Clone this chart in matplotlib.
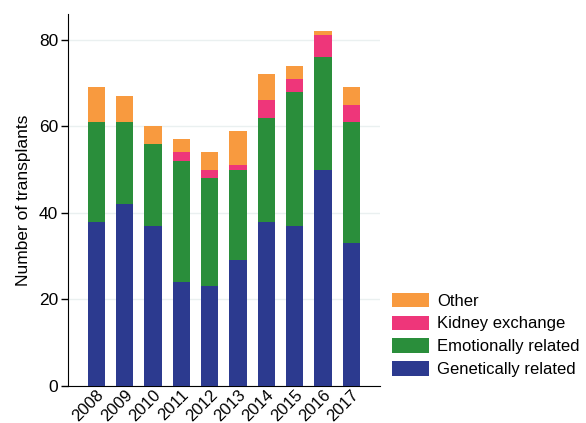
import numpy as np
import matplotlib

matplotlib.use("Agg")
import matplotlib.pyplot as plt

plt.rcParams["font.family"] = ["Liberation Sans", "DejaVu Sans"]

years = ["2008", "2009", "2010", "2011", "2012", "2013", "2014", "2015", "2016", "2017"]
genetic = [38, 42, 37, 24, 23, 29, 38, 37, 50, 33]
emotional = [23, 19, 19, 28, 25, 21, 24, 31, 26, 28]
exchange = [0, 0, 0, 2, 2, 1, 4, 3, 5, 4]
other = [8, 6, 4, 3, 4, 8, 6, 3, 1, 4]

series = [
    ("Genetically related", genetic, "#2c3a8f"),
    ("Emotionally related", emotional, "#2a8e3b"),
    ("Kidney exchange", exchange, "#ee367a"),
    ("Other", other, "#f89a3f"),
]

fig = plt.figure(figsize=(5.86, 4.23), dpi=100)
ax = fig.add_axes([0.116, 0.0875, 0.532, 0.88])

x = np.arange(len(years))
bottom = np.zeros(len(years))
handles = []
for label, vals, color in series:
    vals = np.array(vals, dtype=float)
    h = ax.bar(x, vals, width=0.61, bottom=bottom, color=color, label=label, zorder=3)
    handles.append(h)
    bottom += vals

ax.set_xlim(-1, 10)
ax.set_ylim(0, 86)
ax.set_yticks([0, 20, 40, 60, 80])
ax.set_xticks(x)
ax.set_xticklabels(years, rotation=45, ha="right", rotation_mode="anchor", fontsize=12)
ax.tick_params(axis="x", length=0, pad=1)
ax.tick_params(axis="y", labelsize=12.5, length=5, width=1, pad=2)
ax.yaxis.grid(True, color="#eaf0f0", lw=1, zorder=0)
ax.set_ylabel("Number of transplants", fontsize=12.5, labelpad=6)
for s in ("top", "right"):
    ax.spines[s].set_visible(False)

fig.legend(handles[::-1], [s[0] for s in series][::-1], loc="lower left",
           bbox_to_anchor=(0.669, 0.108), frameon=False, fontsize=12,
           handlelength=2.2, handleheight=0.95, handletextpad=0.5, labelspacing=0.42,
           borderpad=0, borderaxespad=0)

fig.savefig("out.png", dpi=100)
